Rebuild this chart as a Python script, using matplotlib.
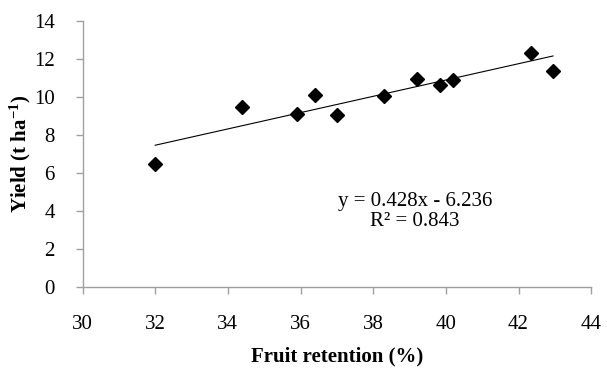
"""
Yield vs fruit retention scatter with linear trend line.
"""

import numpy as np
import matplotlib
matplotlib.use("Agg")
import matplotlib.pyplot as plt

# ---------------------------------------------------------------------------
# Data
# ---------------------------------------------------------------------------
retention = [32.0, 34.4, 35.9, 36.4, 37.0, 38.3, 39.2, 39.85, 40.2, 42.35, 42.95]
yield_t   = [6.45, 9.45, 9.1, 10.08, 9.05, 10.02, 10.95, 10.6, 10.9, 12.28, 11.35]

slope, intercept = 0.428, -6.236
r2 = 0.843

x_ticks = [30, 32, 34, 36, 38, 40, 42, 44]
y_ticks = [0, 2, 4, 6, 8, 10, 12, 14]

# ---------------------------------------------------------------------------
# Plot
# ---------------------------------------------------------------------------
plt.rcParams["font.family"] = ["Liberation Serif", "DejaVu Serif"]
plt.rcParams["mathtext.fontset"] = "custom"
plt.rcParams["mathtext.rm"] = "Liberation Serif:bold"
plt.rcParams["mathtext.default"] = "rm"

fig = plt.figure(figsize=(6.07, 3.69), dpi=100)
ax = fig.add_axes([0.136, 0.2214, 0.838, 0.7226])

ax.plot(retention, yield_t, linestyle="none", marker="D", markersize=7.2,
        color="black", zorder=3)

# trend line across the data range
xs = np.array([min(retention), max(retention)])
ax.plot(xs, slope * xs + intercept, color="black", linewidth=0.8, zorder=2)

ax.text(39.15, 3.98, f"y = {slope:.3f}x - {abs(intercept):.3f}\nR² = {r2:.3f}",
        ha="center", va="center", fontsize=15, linespacing=1.05)

ax.set_xlim(30, 44)
ax.set_ylim(0, 14)
ax.set_xticks(x_ticks)
ax.set_yticks(y_ticks)

grey = "#a0a0a0"
for side in ("top", "right"):
    ax.spines[side].set_visible(False)
for side in ("left", "bottom"):
    ax.spines[side].set_color(grey)
    ax.spines[side].set_linewidth(1.0)
ax.tick_params(direction="out", length=5, width=1, color=grey,
               labelsize=15, pad=15)

ax.set_xlabel("Fruit retention (%)", fontsize=15, fontweight="bold",
              labelpad=9)
ax.set_ylabel("Yield (t ha$^{\\mathrm{-1}}$)", fontsize=15, fontweight="bold",
              labelpad=1)

fig.savefig("out.png", dpi=100)
